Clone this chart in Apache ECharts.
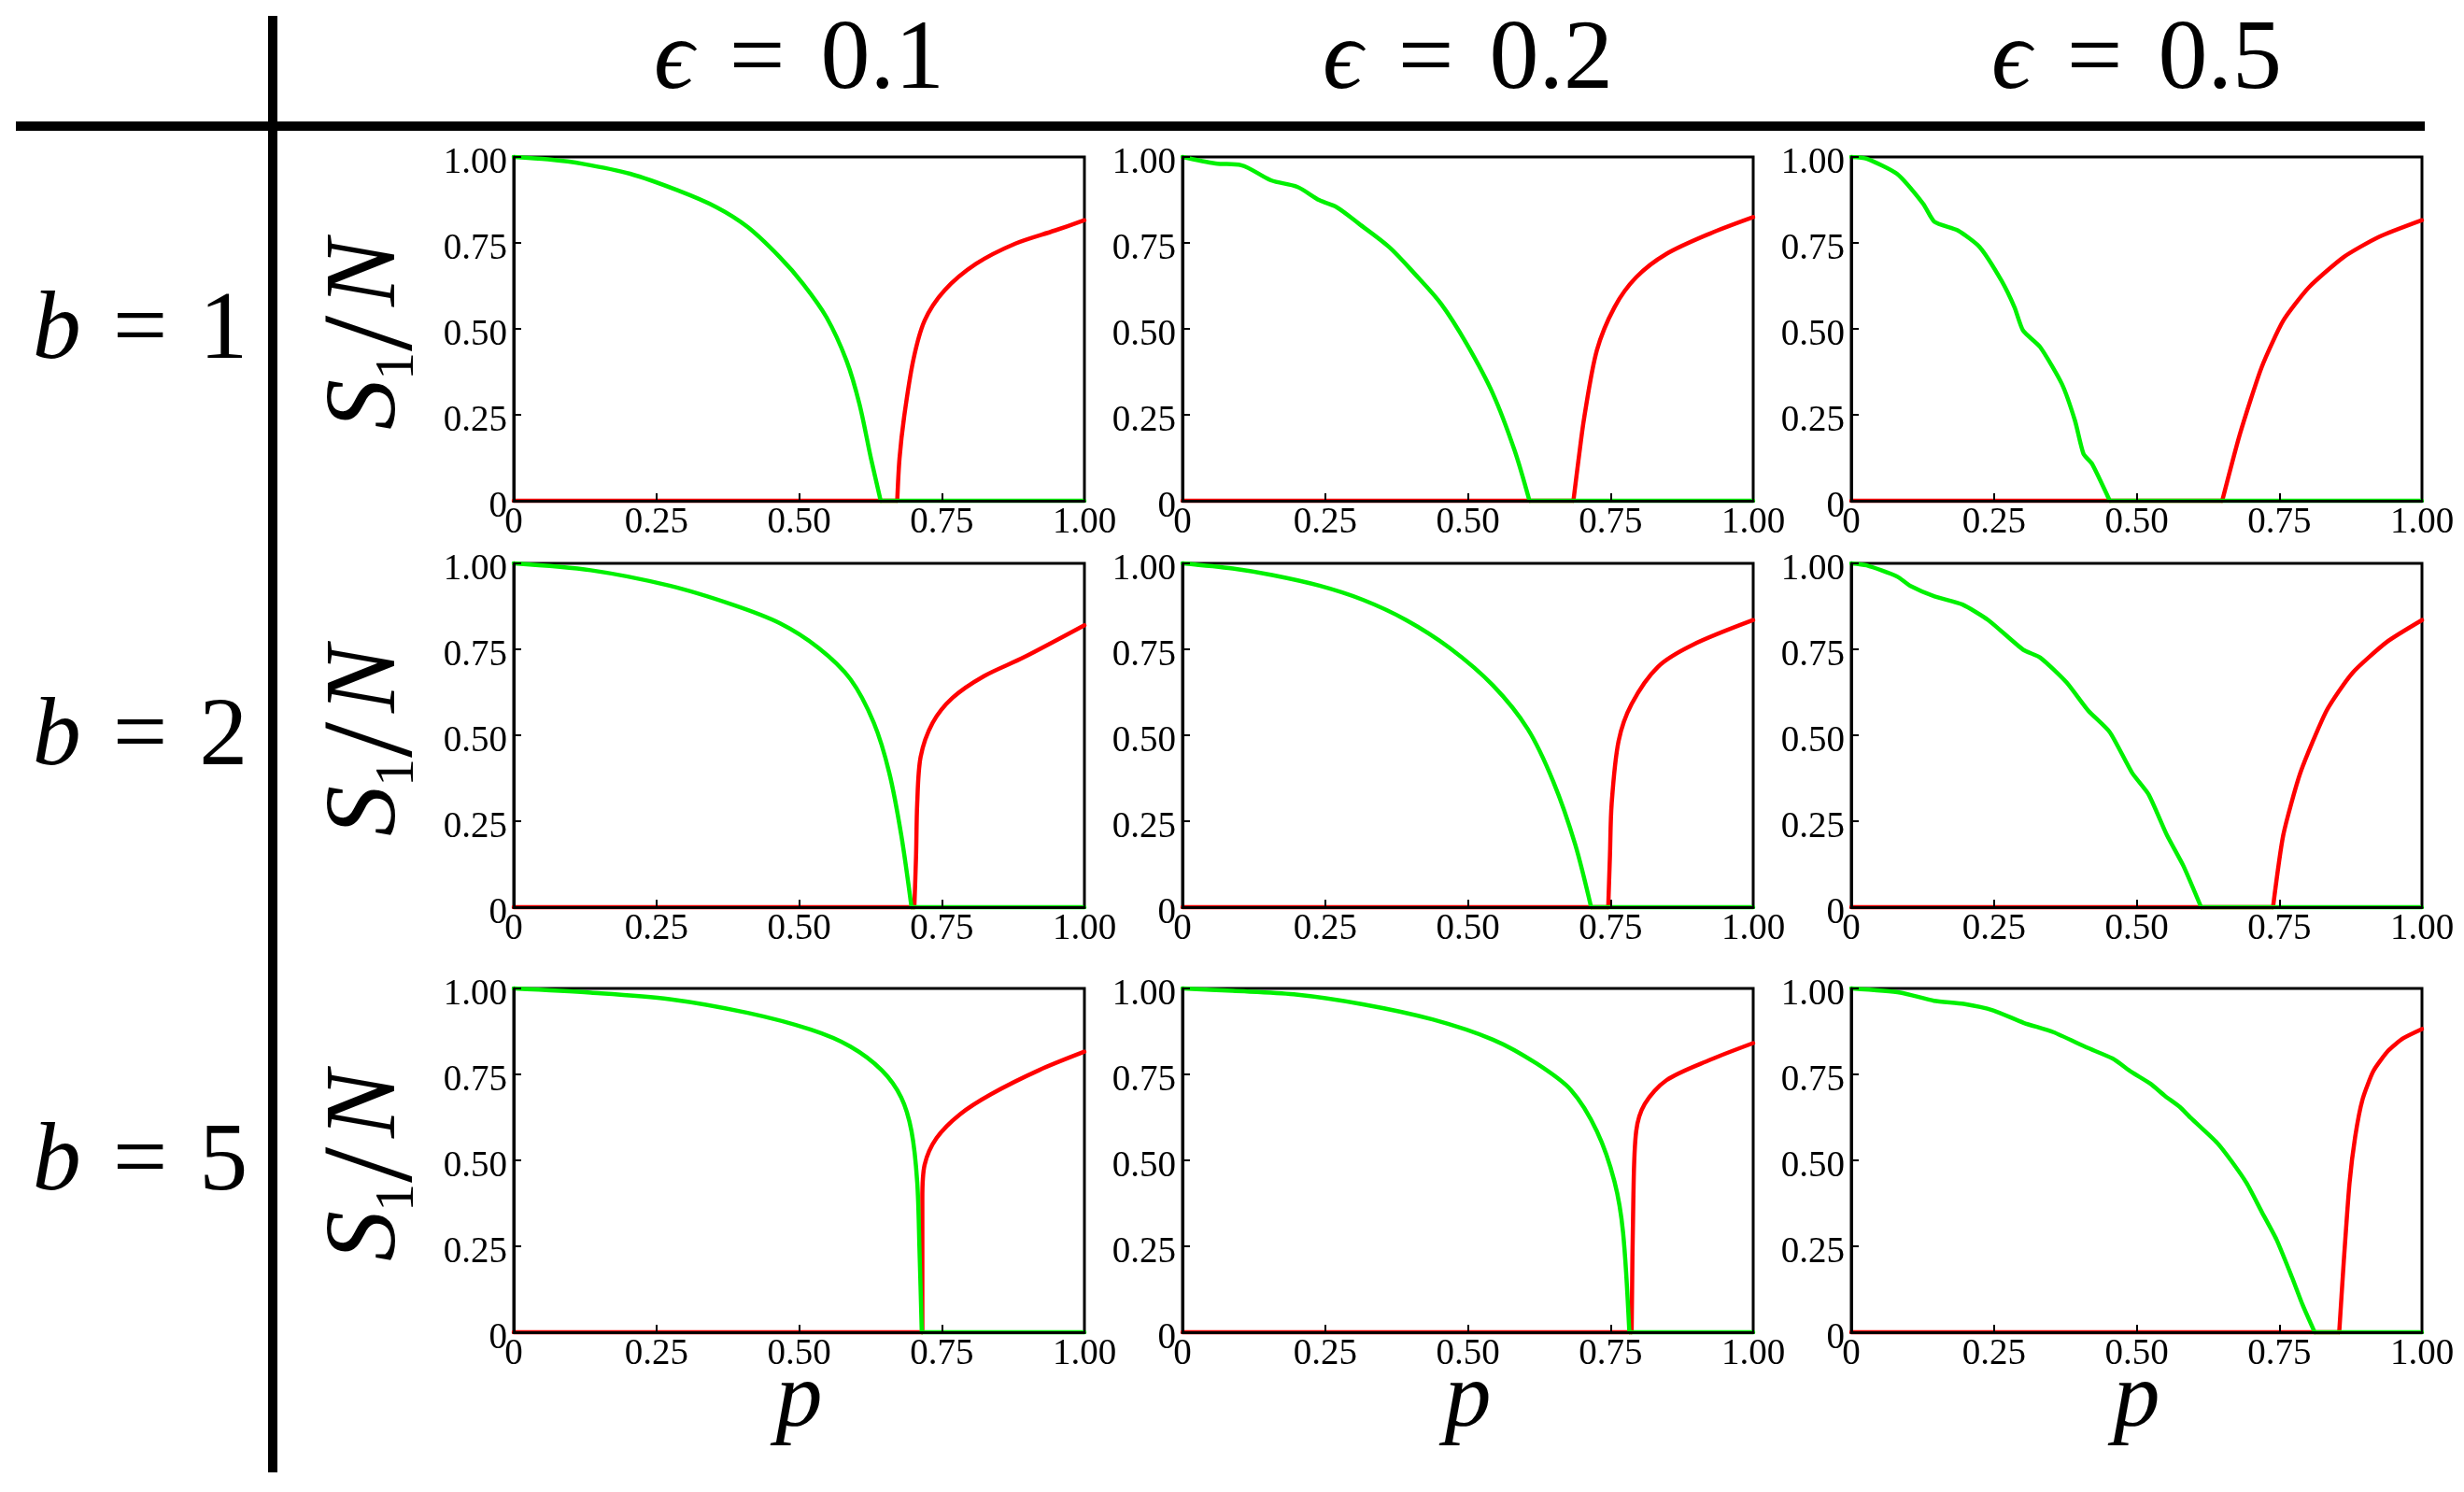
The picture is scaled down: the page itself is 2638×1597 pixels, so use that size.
<!DOCTYPE html>
<html><head><meta charset="utf-8">
<script src="https://cdn.jsdelivr.net/npm/echarts@6/dist/echarts.min.js"></script>
<style>html,body{margin:0;padding:0;background:#fff}#c{width:2638px;height:1597px}</style>
</head><body><div id="c"></div>
<script>
// ---------- labels ----------
const epsLabels = ['0.1', '0.2', '0.5'];
const bLabels = ['1', '2', '5'];
const tickValues = [0, 0.25, 0.5, 0.75, 1];
const tickLabels = ['0', '0.25', '0.50', '0.75', '1.00'];

// ---------- data: [p, S1/N], non-zero branch of each curve (ending / starting at S=0) ----------
// b = 1
const green_b1_e01 = [[0,1],[0.06,0.993],[0.121,0.98],[0.204,0.951],[0.287,0.903],[0.355,0.854],[0.41,0.796],[0.466,0.709],[0.507,0.631],[0.548,0.534],[0.583,0.408],[0.606,0.28],[0.626,0.123],[0.643,0]];
const red_b1_e01   = [[0.672,0],[0.676,0.123],[0.684,0.243],[0.7,0.408],[0.72,0.524],[0.755,0.612],[0.81,0.689],[0.879,0.748],[0.948,0.786],[1,0.816]];
const green_b1_e02 = [[0,1],[0.058,0.981],[0.103,0.976],[0.155,0.932],[0.201,0.913],[0.24,0.874],[0.27,0.854],[0.309,0.806],[0.362,0.738],[0.407,0.66],[0.453,0.573],[0.498,0.456],[0.544,0.311],[0.582,0.146],[0.608,0]];
const red_b1_e02   = [[0.685,0],[0.694,0.12],[0.704,0.243],[0.726,0.437],[0.757,0.563],[0.795,0.65],[0.848,0.718],[0.924,0.777],[1,0.825]];
const green_b1_e05 = [[0,1],[0.027,0.995],[0.08,0.951],[0.126,0.864],[0.146,0.811],[0.187,0.786],[0.225,0.738],[0.263,0.641],[0.286,0.563],[0.301,0.495],[0.331,0.447],[0.369,0.34],[0.392,0.233],[0.407,0.136],[0.422,0.107],[0.453,0]];
const red_b1_e05   = [[0.65,0],[0.681,0.194],[0.719,0.388],[0.757,0.524],[0.802,0.621],[0.863,0.709],[0.924,0.767],[1,0.816]];
// b = 2
const green_b2_e01 = [[0,1],[0.135,0.98],[0.273,0.935],[0.383,0.88],[0.466,0.826],[0.534,0.754],[0.59,0.663],[0.631,0.536],[0.658,0.391],[0.679,0.21],[0.697,0]];
const red_b2_e01   = [[0.702,0],[0.705,0.15],[0.707,0.301],[0.713,0.437],[0.734,0.536],[0.769,0.609],[0.824,0.672],[0.893,0.726],[1,0.82]];
const green_b2_e02 = [[0,1],[0.088,0.985],[0.157,0.966],[0.24,0.935],[0.316,0.894],[0.392,0.835],[0.468,0.754],[0.544,0.645],[0.605,0.518],[0.65,0.364],[0.688,0.183],[0.716,0]];
const red_b2_e02   = [[0.746,0],[0.749,0.15],[0.752,0.301],[0.764,0.482],[0.787,0.591],[0.833,0.699],[0.894,0.763],[1,0.835]];
const green_b2_e05 = [[0,1],[0.027,0.994],[0.08,0.962],[0.103,0.935],[0.146,0.904],[0.195,0.88],[0.24,0.835],[0.301,0.749],[0.331,0.726],[0.377,0.654],[0.415,0.572],[0.453,0.509],[0.492,0.391],[0.521,0.328],[0.553,0.21],[0.582,0.12],[0.613,0]];
const red_b2_e05   = [[0.739,0],[0.757,0.21],[0.787,0.391],[0.833,0.572],[0.878,0.681],[0.939,0.772],[1,0.835]];
// b = 5
const green_b5_e01 = [[0,1],[0.135,0.988],[0.273,0.969],[0.41,0.929],[0.521,0.88],[0.59,0.831],[0.645,0.762],[0.679,0.683],[0.697,0.585],[0.707,0.437],[0.711,0.241],[0.715,0]];
const red_b5_e01   = [[0.716,0],[0.716,0.388],[0.72,0.487],[0.741,0.565],[0.782,0.634],[0.837,0.693],[0.92,0.762],[1,0.816]];
const green_b5_e02 = [[0,1],[0.088,0.993],[0.195,0.983],[0.316,0.954],[0.438,0.91],[0.544,0.851],[0.62,0.782],[0.681,0.704],[0.726,0.585],[0.757,0.438],[0.772,0.29],[0.783,0]];
const red_b5_e02   = [[0.787,0],[0.79,0.388],[0.795,0.585],[0.81,0.664],[0.848,0.733],[0.924,0.792],[1,0.841]];
const green_b5_e05 = [[0,1],[0.086,0.988],[0.145,0.964],[0.197,0.955],[0.249,0.936],[0.302,0.9],[0.354,0.873],[0.413,0.828],[0.458,0.796],[0.491,0.757],[0.524,0.723],[0.55,0.687],[0.576,0.655],[0.595,0.623],[0.641,0.551],[0.667,0.496],[0.693,0.433],[0.719,0.351],[0.745,0.27],[0.772,0.161],[0.791,0.079],[0.812,0]];
const red_b5_e05   = [[0.855,0],[0.863,0.206],[0.873,0.433],[0.883,0.569],[0.896,0.678],[0.915,0.76],[0.941,0.819],[0.967,0.855],[1,0.882]];

const greenRows = [[green_b1_e01, green_b1_e02, green_b1_e05],[green_b2_e01, green_b2_e02, green_b2_e05],[green_b5_e01, green_b5_e02, green_b5_e05]];
const redRows   = [[red_b1_e01, red_b1_e02, red_b1_e05],[red_b2_e01, red_b2_e02, red_b2_e05],[red_b5_e01, red_b5_e02, red_b5_e05]];

// ---------- layout ----------
const FONT = '"Liberation Serif", "DejaVu Serif", serif';
const colLeft = [550, 1266, 1982];
const rowTop = [168, 603, 1058];
const PW = 611, PH = 368;
const GREEN = '#00f000', RED = '#ff0000';
const LW = 4.5;

const fmt = v => { const i = tickValues.indexOf(v); return i >= 0 ? tickLabels[i] : String(v); };

const grids = [], xAxes = [], yAxes = [], series = [];
function lineSeries(idx, data, color, z, smooth) {
  return { type: 'line', xAxisIndex: idx, yAxisIndex: idx, data: data, symbol: 'none', showSymbol: false,
    smooth: smooth, lineStyle: { color: color, width: LW, cap: 'round', join: 'round' }, clip: false, silent: true, z: z, animation: false };
}
for (let r = 0; r < 3; r++) {
  for (let c = 0; c < 3; c++) {
    const idx = r * 3 + c;
    grids.push({ left: colLeft[c], top: rowTop[r], width: PW, height: PH, show: true,
      borderColor: '#000', borderWidth: 3, backgroundColor: 'rgba(0,0,0,0)', containLabel: false });
    xAxes.push({ type: 'value', gridIndex: idx, min: 0, max: 1, interval: 0.25, z: 5,
      axisLine: { show: true, onZero: false, lineStyle: { color: '#000', width: 3 } },
      axisTick: { show: true, inside: true, length: 8, lineStyle: { color: '#000', width: 2 } },
      axisLabel: { show: true, margin: 4, fontSize: 39, lineHeight: 39, fontFamily: FONT, color: '#000', formatter: fmt },
      splitLine: { show: false } });
    yAxes.push({ type: 'value', gridIndex: idx, min: 0, max: 1, interval: 0.25, z: 5,
      axisLine: { show: true, onZero: false, lineStyle: { color: '#000', width: 3 } },
      axisTick: { show: true, inside: true, length: 8, lineStyle: { color: '#000', width: 2 } },
      axisLabel: { show: true, margin: 7, fontSize: 39, lineHeight: 14, verticalAlign: 'top', fontFamily: FONT, color: '#000', formatter: fmt },
      splitLine: { show: false } });
    const g = greenRows[r][c], rd = redRows[r][c];
    const gEnd = g[g.length - 1][0], rStart = rd[0][0];
    const sm = c === 2 ? 0.2 : 0.3;
    // red: zero branch then rising branch; green drawn on top
    series.push(lineSeries(idx, [[0, 0], [rStart, 0]], RED, 2, false));
    series.push(lineSeries(idx, rd, RED, 2, sm));
    series.push(lineSeries(idx, [[gEnd, 0], [1, 0]], GREEN, 3, false));
    series.push(lineSeries(idx, g, GREEN, 3, sm));
  }
}

// ---------- decorations ----------
const graphics = [];
graphics.push({ type: 'line', shape: { x1: 292, y1: 17, x2: 292, y2: 1576 }, style: { stroke: '#000', lineWidth: 10 }, z: 10 });
graphics.push({ type: 'line', shape: { x1: 17, y1: 135, x2: 2596, y2: 135 }, style: { stroke: '#000', lineWidth: 10 }, z: 10 });
for (let c = 0; c < 3; c++) {
  const cx = colLeft[c] + PW / 2;
  graphics.push({ type: 'text', x: cx, y: 66, z: 10, style: {
    text: '{i|\u03F5}{eq|=}' + epsLabels[c], fontSize: 106, fontFamily: FONT, fill: '#000', align: 'center', verticalAlign: 'middle',
    rich: { i: { fontSize: 106, fontFamily: FONT, fontStyle: 'italic', fill: '#000' },
            eq: { fontSize: 106, fontFamily: FONT, fill: '#000', padding: [0, 38, 0, 38] } } } });
  graphics.push({ type: 'text', x: cx, y: 1500, z: 10, style: {
    text: 'p', fontSize: 100, fontFamily: FONT, fontStyle: 'italic', fill: '#000', align: 'center', verticalAlign: 'middle' } });
}
for (let r = 0; r < 3; r++) {
  const cy = rowTop[r] + PH / 2;
  graphics.push({ type: 'text', x: 150, y: cy + 4, z: 10, style: {
    text: '{i|b}{eq|=}' + bLabels[r], fontSize: 104, fontFamily: FONT, fill: '#000', align: 'center', verticalAlign: 'middle',
    rich: { i: { fontSize: 104, fontFamily: FONT, fontStyle: 'italic', fill: '#000' },
            eq: { fontSize: 104, fontFamily: FONT, fill: '#000', padding: [0, 34, 0, 34] } } } });
  const F = 108;
  graphics.push({ type: 'group', x: 427, y: cy + 108, rotation: Math.PI / 2, z: 10, children: [
    { type: 'text', x: 0, y: -0.305 * F, style: { text: 'S', fontSize: F, fontFamily: FONT, fontStyle: 'italic', fill: '#000', align: 'left', verticalAlign: 'middle' } },
    { type: 'text', x: 53, y: 18 - 0.305 * 60, style: { text: '1', fontSize: 60, fontFamily: FONT, fill: '#000', align: 'left', verticalAlign: 'middle' } },
    { type: 'text', x: 84, y: 19 - 0.305 * 138, style: { text: '/', fontSize: 138, fontFamily: FONT, fill: '#000', align: 'left', verticalAlign: 'middle' } },
    { type: 'text', x: 132, y: -0.305 * F, style: { text: 'N', fontSize: F, fontFamily: FONT, fontStyle: 'italic', fill: '#000', align: 'left', verticalAlign: 'middle' } }
  ] });
}

const chart = echarts.init(document.getElementById('c'), null, { renderer: 'canvas' });
chart.setOption({
  backgroundColor: '#fff',
  animation: false,
  grid: grids, xAxis: xAxes, yAxis: yAxes, series: series,
  graphic: graphics
});
</script></body></html>
